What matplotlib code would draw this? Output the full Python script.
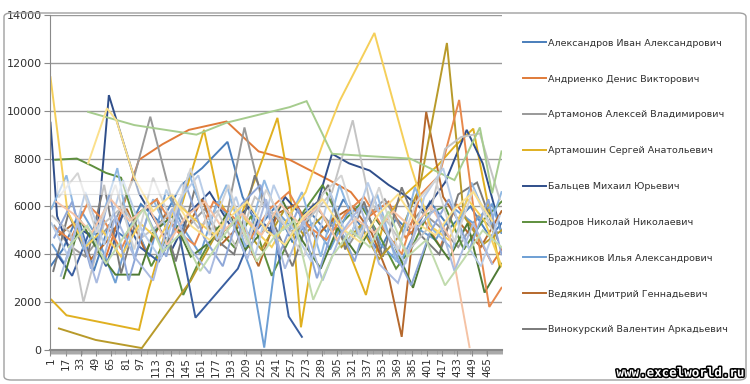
import matplotlib.pyplot as plt
import matplotlib.patheffects as pe
from matplotlib.patches import FancyBboxPatch, Rectangle
from matplotlib.ticker import MultipleLocator

# legend names (only the first nine fit into the legend box)
names = ['Александров Иван Александрович', 'Андриенко Денис Викторович',
         'Артамонов Алексей Владимирович', 'Артамошин Сергей Анатольевич',
         'Бальцев Михаил Юрьевич', 'Бодров Николай Николаевич',
         'Бражников Илья Александрович', 'Ведякин Дмитрий Геннадьевич',
         'Винокурский Валентин Аркадьевич']

# (row number, value) pairs; empty rows are skipped by Excel
s01 = [(1,3500),(14,4200),(30,5600),(47,3300),(63,5200),(80,4700),(97,6100),(118,5300),(140,6900),(162,7600),(189,8700),(205,6400),(222,5100),(240,6000),(258,4500),(276,5800),(295,4900),(312,6300),(330,5200),(350,4100),(368,5500),(386,4800),(404,6200),(425,5100),(447,6000),(468,4700),(480,5300)]
s02 = [(60,3900),(78,6000),(95,7950),(120,8600),(148,9200),(188,9550),(222,8300),(255,7950),(297,7100),(320,6600),(340,5600),(360,6200),(378,4700),(398,5400),(415,4300),(432,6100),(452,5000),(470,3600),(480,4200)]
s03 = [(5,5200),(20,4400),(38,3900),(55,4800),(72,5600),(90,7250),(107,9750),(129,6400),(146,5100),(165,5900),(183,4600),(207,9300),(226,6200),(244,5400),(262,4800),(280,6100),(300,5200),(318,4400),(338,5600),(356,6300),(376,4900),(394,5800),(413,5200),(434,4300),(455,5600),(476,4900)]
s04 = [(2,2100),(18,1450),(95,840),(105,2500),(122,4800),(140,6000),(164,9200),(180,6250),(198,5100),(220,7300),(242,9700),(255,6800),(267,950),(282,4600),(300,5500),(318,4100),(336,2300),(354,5200),(372,6300),(392,7000),(412,7700),(430,8500),(450,9250),(466,6000),(478,3450)]
s05 = [(1,9500),(8,5600),(20,4300),(35,5000),(50,4600),(63,10650),(95,6550),(112,5400),(130,4200),(150,5800),(170,6600),(192,5200),(212,6000),(232,4900),(250,6400),(268,5600),(285,6200),(300,8200),(318,7800),(340,7500),(360,6900),(380,6400),(398,5800),(420,7000),(443,9200),(460,7800),(480,4900)]
s06 = [(6,7950),(29,8000),(45,7700),(60,7400),(76,7200),(92,5200),(108,3500),(125,4700),(142,2300),(160,3800),(178,5100),(196,4300),(214,5600),(236,3100),(252,4400),(270,5800),(290,6900),(310,5300),(330,6100),(350,4800),(368,3400),(385,4300),(402,5700),(420,6000),(440,4200),(460,5400),(480,6200)]
s07 = [(3,4400),(16,3600),(34,5800),(52,4600),(70,2800),(88,5400),(106,3900),(124,6700),(142,5100),(160,4000),(178,6200),(196,5200),(214,3300),(228,100),(246,5600),(262,4900),(280,5300),(298,4200),(316,5700),(334,6000),(352,4400),(372,3600),(390,5100),(410,4600),(430,5900),(450,5300),(470,6100),(480,4900)]
s08 = [(10,4800),(26,5300),(44,3800),(62,4600),(82,5900),(102,4100),(122,5600),(142,4800),(162,6300),(182,4400),(202,5200),(222,3500),(242,5700),(262,6100),(282,4700),(302,5500),(322,6000),(342,4900),(360,3100),(374,550),(400,9950),(418,6400),(438,5200),(458,4300),(480,5800)]
s09 = [(4,3300),(20,5700),(40,3900),(58,6900),(76,3200),(94,5700),(114,6300),(134,3700),(154,6700),(174,4700),(196,4000),(218,7300),(238,5300),(258,3500),(276,5600),(296,6900),(314,4200),(334,6200),(354,3900),(374,6800),(394,4800),(414,4000),(434,6500),(454,7000),(476,4600)]
s10 = [(10,900),(49,420),(98,80),(150,2900),(175,4700),(200,5400),(225,4200),(250,5900),(270,4800),(290,5600),(310,4300),(330,5200),(350,3800),(370,4700),(393,6800),(422,12830),(440,5600),(460,4400),(480,5000)]
s11 = [(8,4000),(24,3100),(42,4900),(60,3500),(78,5700),(96,4300),(116,3700),(136,5200),(155,1350),(200,3400),(222,5500),(240,4800),(254,1400),(268,550)]
s12 = [(15,3000),(33,5400),(52,4100),(70,3150),(95,3150),(110,4900),(130,5600),(150,3900),(170,4500),(190,5800),(208,4200),(228,5000),(248,6200),(268,4600),(288,3400),(306,5100),(326,4000),(346,5500),(366,4400),(386,2600),(404,4900),(424,3800),(444,5300),(462,2400),(480,3600)]
s13 = [(2,5900),(18,7300),(36,4200),(54,5300),(72,7600),(90,3800),(110,6300),(130,4600),(148,7400),(168,5200),(188,6900),(208,4300),(228,7100),(248,5000),(268,6600),(288,3900),(308,6900),(328,4800),(348,6500),(368,3700),(388,6800),(408,5000),(428,4200),(448,7000),(468,5200),(480,6600)]
s14 = [(6,5100),(22,4600),(40,6100),(58,5400),(76,4200),(94,5700),(114,6300),(134,5000),(154,4400),(174,6200),(194,5600),(214,4700),(234,5900),(254,6600),(274,5200),(294,4600),(314,5700),(334,6400),(354,5100),(374,4000),(394,6500),(414,7300),(435,10450),(452,5400),(467,1800),(480,2600)]
s15 = [(3,5600),(22,4900),(36,2000),(58,5300),(78,6000),(98,4700),(118,5300),(138,6200),(158,5100),(178,5800),(198,4300),(218,6400),(238,5700),(258,4900),(278,5600),(300,6600),(322,9600),(340,6200),(360,5300),(380,4100),(400,5000),(420,8400),(437,8900),(457,9050),(478,6300)]
s16 = [(1,11400),(19,5800),(38,4300),(56,5000),(76,3900),(96,5300),(116,4600),(136,6100),(156,5400),(176,4800),(196,6000),(216,5100),(236,4300),(256,5700),(272,6600),(290,8600),(308,10400),(345,13250),(384,7650),(404,5200),(424,4600),(444,6300),(462,5400),(480,3500)]
s17 = [(5,4700),(24,6200),(44,3400),(64,6500),(84,2900),(104,5600),(124,3900),(144,7000),(164,4700),(184,3500),(204,6100),(224,6900),(244,4000),(264,5900),(284,3000),(304,5500),(324,3700),(344,6400),(364,4300),(384,2700),(404,4900),(424,6300),(446,4200),(466,6300),(480,4000)]
s18 = [(41,9950),(90,9400),(156,9000),(188,9500),(255,10150),(273,10400),(300,8200),(340,8100),(383,8000),(430,7100),(457,9300),(470,6550),(480,8300)]
s19 = [(2,5300),(20,3900),(38,6600),(58,4400),(78,7100),(98,5000),(118,3800),(138,6300),(158,7300),(178,4600),(198,6400),(218,3900),(238,6900),(258,5100),(278,3700),(298,6600),(318,4500),(338,7000),(358,4900),(378,3600),(398,6400),(418,7600),(438,4700),(458,3500),(478,5600)]
s20 = [(7,6200),(25,5700),(45,4900),(65,6300),(85,5400),(105,6000),(125,4400),(145,5600),(165,6200),(185,5000),(205,5700),(225,4800),(245,6100),(265,5300),(285,6000),(305,4600),(325,5500),(345,4900),(365,5800),(385,5100),(405,6000),(425,4700),(446,120)]
s21 = [(10,6400),(30,7400),(50,4900),(70,6900),(90,4200),(110,7200),(130,5300),(150,7600),(170,4800),(190,6900),(210,4400),(230,6700),(250,5200),(270,3900),(290,6500),(310,7300),(330,4700),(350,6800),(370,4200),(390,6200),(410,7100),(430,4500),(450,6700),(470,5000)]
s22 = [(41,7800),(61,10100),(71,9600),(90,7200),(110,5800),(130,6500),(150,5200),(170,4600),(190,5500),(210,6200),(230,5000),(250,4400),(270,5600),(290,6300),(310,5100),(330,4500),(350,5700),(370,6500),(390,5300),(410,4800),(430,5900),(450,6600),(470,5400)]
s23 = [(12,3100),(30,5300),(50,2800),(70,5600),(90,3900),(110,2900),(130,5900),(150,4200),(170,3200),(190,5700),(210,3800),(230,6300),(250,3400),(270,5400),(290,2900),(310,4900),(330,6000),(350,3600),(370,2800),(390,5100),(410,5900),(430,3300),(450,5300),(470,3600)]
s24 = [(20,4300),(40,5200),(60,3600),(80,4800),(100,5900),(120,4100),(140,4900),(160,3300),(180,4500),(200,5600),(220,3700),(240,4800),(260,5400),(280,2100),(300,3900),(320,5000),(340,4300),(360,5800),(380,3900),(400,4600),(420,2700),(440,3800),(460,5000),(480,4300)]

series = [s01, s02, s03, s04, s05, s06, s07, s08, s09, s10, s11, s12,
          s13, s14, s15, s16, s17, s18, s19, s20, s21, s22, s23, s24]

colors = ['#4a7ebb', '#e07b39', '#999999', '#e0b020', '#2f4e8a', '#5e8f3e',
          '#6e9fd4', '#b5682c', '#7a7a7a', '#b89a2a', '#3a5fa0', '#4f7a35',
          '#8fb8e3', '#e8894d', '#c4c4c4', '#f5cf5a', '#8ea7d8', '#a6cc8e',
          '#b9cde8', '#f5c3a5', '#d4d4d4', '#fbe08c', '#aabbe0', '#c1dbad']

n_rows = 480
yticks = list(range(0, 14001, 2000))
xtick_labels = list(range(1, n_rows + 1, 16))

fig = plt.figure(figsize=(7.5, 3.84), dpi=100)
ax = fig.add_axes([50 / 750, 34 / 384, 452 / 750, 335 / 384])

lines = []
for pts, col in zip(series, colors):
    xs = [p[0] for p in pts]
    ys = [p[1] for p in pts]
    ln, = ax.plot(xs, ys, color=col, lw=1.4, solid_joinstyle='miter')
    lines.append(ln)

ax.set_xlim(0.5, n_rows + 0.5)
ax.set_ylim(0, 14000)
ax.set_yticks(yticks)
ax.set_yticklabels([str(v) for v in yticks])
ax.yaxis.grid(True, color='#9a9a9a', lw=1.0)
ax.set_axisbelow(True)
ax.set_xticks(xtick_labels)
ax.set_xticklabels([str(v) for v in xtick_labels], rotation=90)
ax.xaxis.set_minor_locator(MultipleLocator(1))
ax.tick_params(axis='x', which='major', length=4, width=0.8, color='#8a8a8a',
               labelsize=7.5, labelcolor='#303030', pad=1)
ax.tick_params(axis='x', which='minor', length=3, width=0.6, color='#9a9a9a')
ax.tick_params(axis='y', length=4, width=0.8, color='#8a8a8a',
               labelsize=8, labelcolor='#303030', pad=2)
for side in ['top', 'right']:
    ax.spines[side].set_visible(False)
ax.spines['left'].set_color('#8a8a8a')
ax.spines['bottom'].set_color('#8a8a8a')
ax.spines['bottom'].set_linewidth(1.5)

# faint pop-up box left over on the screenshot
fig.patches.append(Rectangle((57 / 750, 1 - 194 / 384), 125 / 750, 13 / 384,
                             transform=fig.transFigure, facecolor='white',
                             edgecolor='#d0d0d0', alpha=0.55, lw=0.8))

fig.legend(lines[:9], names, loc='upper left',
           bbox_to_anchor=(519 / 750, 1 - 35 / 384), frameon=False,
           fontsize=6.8, labelcolor='#303030', handlelength=2.5,
           handletextpad=0.2, labelspacing=2.84, borderaxespad=0)

# chart border
fig.patches.append(FancyBboxPatch((4 / 750, 4 / 384), 742 / 750, 367 / 384,
                                  boxstyle='round,pad=0,rounding_size=0.01',
                                  transform=fig.transFigure, fill=False,
                                  edgecolor='#a0a0a0', lw=1.0))

fig.text(744 / 750, 1 - 373 / 384, 'www.excelworld.ru', ha='right', va='center',
         fontsize=9, fontweight='bold', family='DejaVu Sans Mono', color='white',
         path_effects=[pe.withStroke(linewidth=2.2, foreground='black')])

fig.savefig('out.png', dpi=100)
